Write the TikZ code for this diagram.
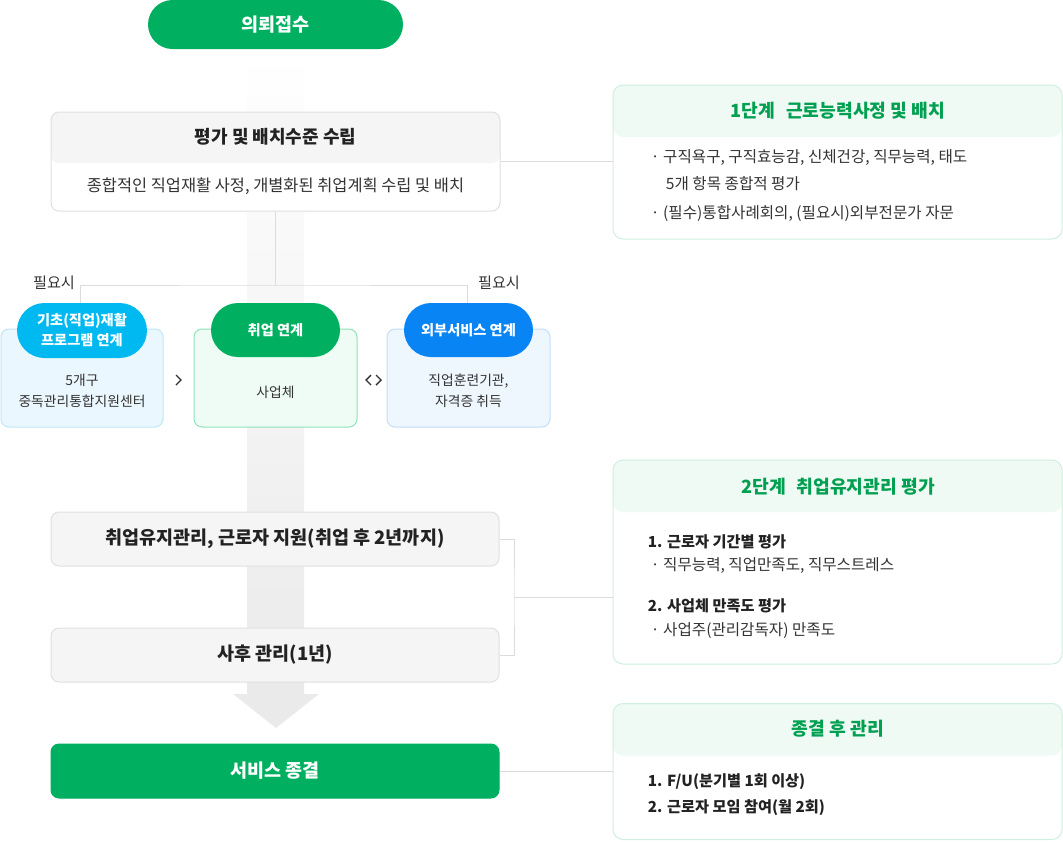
\documentclass[tikz,border=0pt]{standalone}
\usepackage{fontspec}
\setmainfont{Noto Sans CJK KR}
\usetikzlibrary{positioning}

\definecolor{mainGreen}{RGB}{0,176,96}
\definecolor{titleGreen}{RGB}{0,160,80}
\definecolor{skyPill}{RGB}{0,185,240}
\definecolor{bluePill}{RGB}{8,132,245}
\definecolor{skyFill}{RGB}{235,247,254}
\definecolor{skyLine}{RGB}{191,230,247}
\definecolor{mintFill}{RGB}{238,252,245}
\definecolor{mintLine}{RGB}{143,227,185}
\definecolor{blueFill}{RGB}{238,246,254}
\definecolor{blueLine}{RGB}{195,222,248}
\definecolor{hdrFill}{RGB}{239,250,245}
\definecolor{hdrLine}{RGB}{207,239,223}
\definecolor{boxFill}{RGB}{245,245,245}
\definecolor{boxLine}{RGB}{224,224,224}
\definecolor{linkGray}{RGB}{220,220,220}
\definecolor{shaftGray}{RGB}{234,234,234}
\definecolor{inkDark}{RGB}{34,34,34}
\definecolor{inkBody}{RGB}{51,51,51}

\begin{document}
\begin{tikzpicture}[x=1pt,y=-1pt,
  txt/.style={inner sep=0.75pt,text=inkBody,font=\fontsize{15.6}{26}\selectfont},
  btxt/.style={inner sep=0.75pt,text=inkDark,font=\bfseries\fontsize{18}{22}\selectfont},
  pill/.style={fill=#1,inner sep=0pt,text=white,align=center,
    font=\bfseries\fontsize{14.2}{20}\selectfont},
  graybox/.style={draw=boxLine,line width=1pt,fill=boxFill,rounded corners=8pt,inner sep=0pt,
    minimum width=448pt,minimum height=54pt,text=inkDark,
    font=\bfseries\fontsize{18.5}{22}\selectfont},
  stagecard/.style={draw=hdrLine,line width=1pt,fill=white,rounded corners=10pt,inner sep=0pt,
    minimum width=449pt,
    path picture={\fill[hdrFill] (path picture bounding box.north west)
      rectangle ([yshift=-52pt]path picture bounding box.north east);}},
  linkcard/.style 2 args={draw=#2,line width=1pt,fill=#1,rounded corners=8pt,inner sep=0pt,
    minimum width=162pt,minimum height=98pt},
  stagetitle/.style={inner sep=0.75pt,text=titleGreen,font=\bfseries\fontsize{18.2}{22}\selectfont},
  numtxt/.style={inner sep=0.75pt,text=inkDark,anchor=west,font=\bfseries\fontsize{15.2}{19}\selectfont},
  link/.style={draw=linkGray,line width=1pt},
  chev/.style={draw=inkBody,line width=1.4pt}]
\useasboundingbox (0,0) rectangle (1063,841);

%Shape: big down arrow in the back
\shade[top color=white,bottom color=shaftGray] (247,50) rectangle (304,694);
\fill[shaftGray] (233,694) -- (319,694) -- (276,728) -- cycle;

%Shape: start
\node[pill=mainGreen,minimum width=255pt,minimum height=49pt,rounded corners=24.5pt,
  font=\bfseries\fontsize{18.5}{22}\selectfont] (intake) at (275.5,24.5) {의뢰접수};

%Shape: evaluation box
\node[draw=boxLine,line width=1pt,fill=white,rounded corners=8pt,inner sep=0pt,minimum width=449pt,
  minimum height=99pt,path picture={\fill[boxFill] (path picture bounding box.north west)
  rectangle ([yshift=-51pt]path picture bounding box.north east);}] (eval) at (275.5,161.5) {};
% Text Node
\node[btxt] (evaltitle) at (275.5,137) {평가 및 배치수준 수립};
% Text Node
\node[txt,font=\fontsize{16.4}{20}\selectfont] (evalbody) at (275.5,186)
  {종합적인 직업재활 사정, 개별화된 취업계획 수립 및 배치};

%Shape: three link cards
\node[linkcard={skyFill}{skyLine}] (rehabcard) at (82,378) {};
\node[linkcard={mintFill}{mintLine},minimum width=163pt] (jobcard) at (275.5,378) {};
\node[linkcard={blueFill}{blueLine},minimum width=163pt] (extcard) at (468.5,378) {};

%Straight Lines: 필요시 branch
\coordinate (fork) at (275.5,285);
\draw[link] (eval.south) -- (fork);
\draw[link] (80,303) |- (fork) -| (467,303);

\node[pill=skyPill,minimum width=130pt,minimum height=55pt,rounded corners=27.5pt] (rehab)
  at (82,330.5) {기초(직업)재활\\프로그램 연계};
\node[pill=mainGreen,minimum width=129pt,minimum height=54pt,rounded corners=27pt] (job)
  at (275.5,330) {취업 연계};
\node[pill=bluePill,minimum width=129pt,minimum height=54pt,rounded corners=27pt] (ext)
  at (468.5,330) {외부서비스 연계};

% Text Node
\node[txt,font=\fontsize{13.8}{21}\selectfont,align=center] (rehabbody) at (82,391)
  {5개구\\중독관리통합지원센터};
% Text Node
\node[txt,font=\fontsize{13.8}{21}\selectfont] (jobbody) at (275.5,392) {사업체};
% Text Node
\node[txt,font=\fontsize{13.8}{21}\selectfont,align=center] (extbody) at (468.5,391)
  {직업훈련기관,\\자격증 취득};
% Text Node
\node[txt,font=\fontsize{15.2}{18}\selectfont] (needleft) at (54,283) {필요시};
% Text Node
\node[txt,font=\fontsize{15.2}{18}\selectfont] (needright) at (499,283) {필요시};

%Shape: chevrons
\draw[chev] (176,375) -- (181,380) -- (176,385);
\draw[chev] (371,375) -- (366,380) -- (371,385);
\draw[chev] (376,375) -- (381,380) -- (376,385);

%Shape: follow-up boxes
\node[graybox] (keep) at (275,539) {취업유지관리, 근로자 지원(취업 후 2년까지)};
\node[graybox] (after) at (275,655) {사후 관리(1년)};
\node[graybox,draw=mainGreen,fill=mainGreen,text=white] (close) at (275,771) {서비스 종결};

%Shape: stage cards
\node[stagecard,minimum height=154pt] (stage1) at (837.5,162) {};
\node[stagecard,minimum height=204pt] (stage2) at (837.5,562) {};
\node[stagecard,minimum height=136pt] (stage3) at (837.5,771.5) {};

%Straight Lines
\draw[link] (eval.east) -- (eval.east -| stage1.west);
\coordinate (brace) at (514,597);
\draw[link] (keep.east) -| (brace) |- (after.east);
\draw[link] (brace) -- (brace -| stage2.west);
\draw[link] (close.east) -- (close.east -| stage3.west);

% Text Node
\node[stagetitle] (stage1title) at (838,111) {1단계\hspace{0.6em}근로능력사정 및 배치};
\node[txt,anchor=west] (s1a) at (650,158) {· 구직욕구, 구직효능감, 신체건강, 직무능력, 태도};
\node[txt,anchor=west] (s1b) at (665,184) {5개 항목 종합적 평가};
\node[txt,anchor=west] (s1c) at (650,214) {· (필수)통합사례회의, (필요시)외부전문가 자문};

% Text Node
\node[stagetitle] (stage2title) at (838,487) {2단계\hspace{0.6em}취업유지관리 평가};
\node[numtxt] (s2a) at (647,542) {1. 근로자 기간별 평가};
\node[txt,anchor=west] (s2b) at (650,566) {· 직무능력, 직업만족도, 직무스트레스};
\node[numtxt] (s2c) at (647,606) {2. 사업체 만족도 평가};
\node[txt,anchor=west] (s2d) at (650,631) {· 사업주(관리감독자) 만족도};

% Text Node
\node[stagetitle] (stage3title) at (838,729) {종결 후 관리};
\node[numtxt] (s3a) at (647,782) {1. F/U(분기별 1회 이상)};
\node[numtxt] (s3b) at (647,808) {2. 근로자 모임 참여(월 2회)};

\end{tikzpicture}
\end{document}
